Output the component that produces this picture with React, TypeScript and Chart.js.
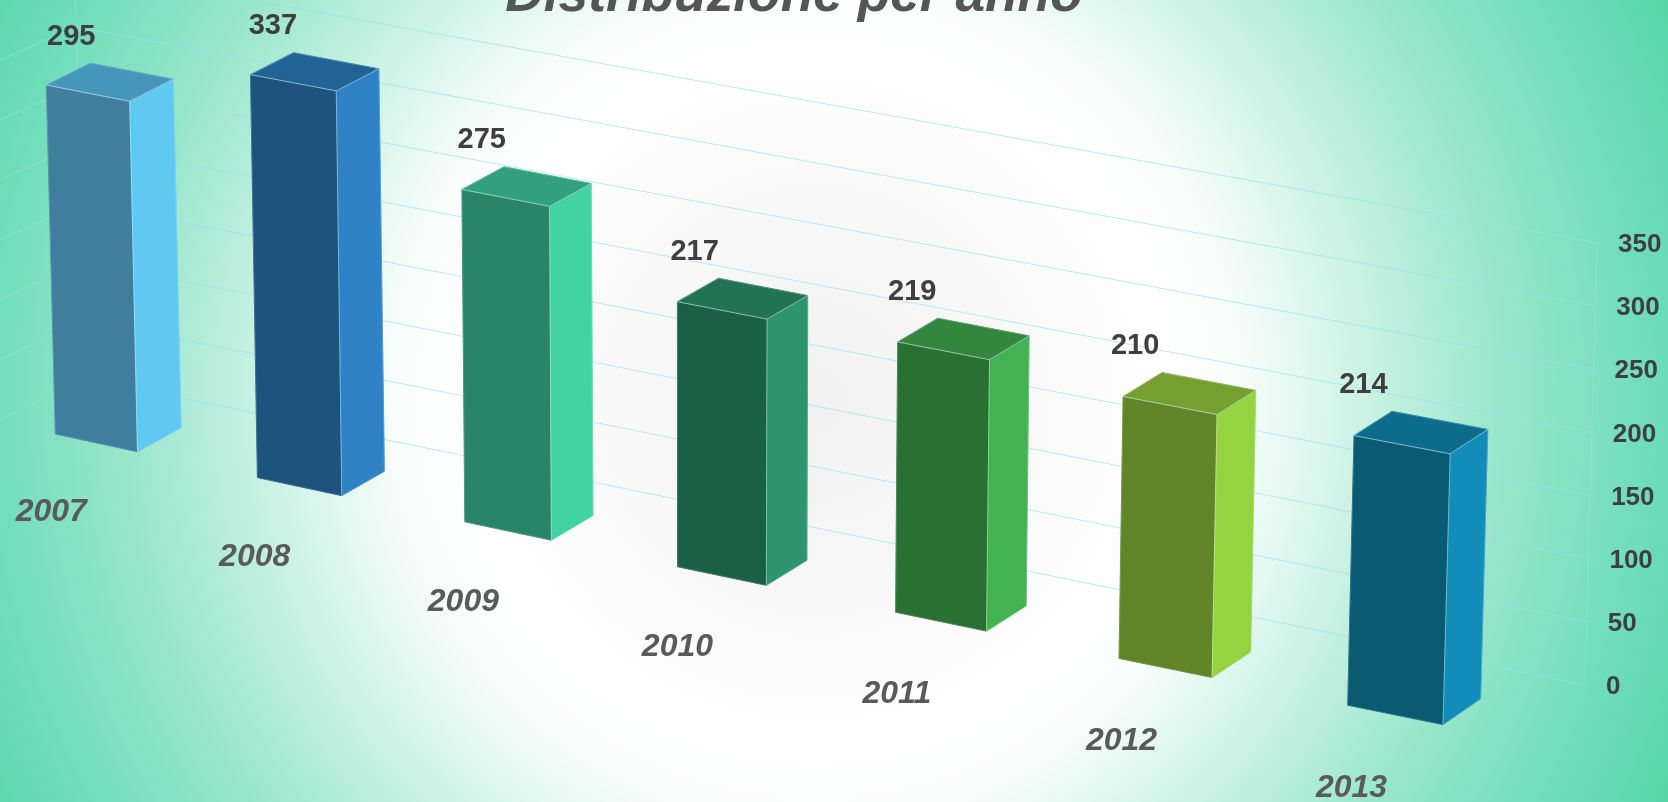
import React, { useEffect, useRef } from "react";
import { Chart, registerables, BarController } from "chart.js";

const categories = ["2007", "2008", "2009", "2010", "2011", "2012", "2013"];
const values = [295, 337, 275, 217, 219, 210, 214];
const yTicks = [0, 50, 100, 150, 200, 250, 300, 350];
const frontColors = ["#3f7f9d", "#1d537c", "#2a8468", "#1b5f47", "#2b7033", "#618428", "#0a5a72"];
const sideColors = ["#5fc9f2", "#2f82c5", "#43d3a2", "#2e946d", "#43b253", "#96d340", "#128cb8"];
const topColors = ["#4596b9", "#216396", "#31a07e", "#227355", "#33863e", "#75a02f", "#0d6c8c"];
const titleText = "Distribuzione per anno";

const FONT = '"Liberation Sans", Arial, sans-serif';
const BAR_W = 0.41;

// oblique projection: u = position along the category axis, v = value, d = depth 0..1
function project(u: number, v: number, d: number): [number, number] {
  const bx = 55.3 + 202.1 * u + 2.66 * u * (u - 1);
  const by = 434 + 43.6 * u + 0.32 * u * (u - 1);
  const x = bx + v * (-0.0305 + 0.01 * u) + d * (44 - u);
  const y = by - v * (1.183 + 0.0128 * u) + d * (-24 - 0.3 * u + 0.007 * v);
  return [x, y];
}
// back wall: t = 0 at the left corner, t = 1 at the right corner
function wall(t: number, v: number): [number, number] {
  const l: [number, number] = [84 - 0.026 * v, 378 - 1.17 * v];
  const r: [number, number] = [1585 + 0.0343 * v, 685 - 1.263 * v];
  return [l[0] + (r[0] - l[0]) * t, l[1] + (r[1] - l[1]) * t];
}

function poly(ctx: CanvasRenderingContext2D, pts: [number, number][], fill: string) {
  ctx.beginPath();
  pts.forEach((p, i) => (i ? ctx.lineTo(p[0], p[1]) : ctx.moveTo(p[0], p[1])));
  ctx.closePath();
  ctx.fillStyle = fill;
  ctx.fill();
  ctx.lineWidth = 1;
  ctx.strokeStyle = fill;
  ctx.stroke();
}
function edge(ctx: CanvasRenderingContext2D, a: [number, number], b: [number, number], alpha: number) {
  ctx.beginPath();
  ctx.moveTo(a[0], a[1]);
  ctx.lineTo(b[0], b[1]);
  ctx.strokeStyle = `rgba(215,240,245,${alpha})`;
  ctx.lineWidth = 1;
  ctx.stroke();
}

class Bar3D extends BarController {
  static id = "bar3d";
  static defaults = BarController.defaults;
  static overrides = BarController.overrides;
  draw() {
    const chart: any = (this as any).chart;
    const ctx: CanvasRenderingContext2D = chart.ctx;
    const meta: any = (this as any)._cachedMeta;
    const yScale = chart.scales.y;
    meta.data.forEach((el: any, i: number) => {
      const v = yScale.getValueForPixel(el.y);
      const a = i;
      const b = i + BAR_W;
      const fbl = project(a, 0, 0), fbr = project(b, 0, 0), ftl = project(a, v, 0), ftr = project(b, v, 0);
      const bbr = project(b, 0, 1), btl = project(a, v, 1), btr = project(b, v, 1);
      poly(ctx, [fbl, fbr, ftr, ftl], frontColors[i]);
      poly(ctx, [fbr, bbr, btr, ftr], sideColors[i]);
      poly(ctx, [ftl, ftr, btr, btl], topColors[i]);
      edge(ctx, ftl, ftr, 0.6);
      edge(ctx, ftr, btr, 0.6);
      edge(ctx, ftr, fbr, 0.45);
      edge(ctx, ftl, btl, 0.3);
      edge(ctx, btl, btr, 0.25);
      edge(ctx, ftl, fbl, 0.2);
      edge(ctx, btr, bbr, 0.25);
      edge(ctx, fbl, fbr, 0.15);
      edge(ctx, fbr, bbr, 0.15);
    });
  }
}

Chart.register(...registerables, Bar3D as any);

const scenePlugin = {
  id: "scene",
  beforeDraw(chart: any) {
    const { ctx, width, height } = chart;
    ctx.save();
    const g = ctx.createRadialGradient(815, 400, 0, 815, 400, 935);
    g.addColorStop(0, "#f1f1f1");
    g.addColorStop(0.2, "#f8f8f8");
    g.addColorStop(0.38, "#ffffff");
    g.addColorStop(0.45, "#f8fdfb");
    g.addColorStop(0.52, "#e2f8f0");
    g.addColorStop(0.74, "#97e6cb");
    g.addColorStop(0.91, "#6adcb8");
    g.addColorStop(1, "#58d6aa");
    ctx.fillStyle = g;
    ctx.fillRect(0, 0, width, height);
    ctx.restore();
  },
  beforeDatasetsDraw(chart: any) {
    const { ctx } = chart;
    const yScale = chart.scales.y;
    ctx.save();
    ctx.lineWidth = 1;
    yTicks.forEach((t) => {
      const v = yScale.getValueForPixel(yScale.getPixelForValue(t));
      const l = wall(0, v);
      const r = wall(1, v);
      ctx.strokeStyle = "rgba(150,222,242,0.65)";
      ctx.beginPath();
      ctx.moveTo(0, 420 - 1.2 * v);
      ctx.lineTo(l[0], l[1]);
      ctx.lineTo(r[0], r[1]);
      ctx.stroke();
    });
    ctx.strokeStyle = "rgba(150,222,242,0.45)";
    [0, 1].forEach((t) => {
      const a = wall(t, 0);
      const b = wall(t, 350);
      ctx.beginPath();
      ctx.moveTo(a[0], a[1]);
      ctx.lineTo(b[0], b[1]);
      ctx.stroke();
    });
    ctx.restore();
  },
  afterDatasetsDraw(chart: any) {
    const { ctx } = chart;
    const yScale = chart.scales.y;
    ctx.save();
    ctx.textBaseline = "middle";
    // value labels
    ctx.font = `bold 29px ${FONT}`;
    ctx.fillStyle = "#3f3f3f";
    ctx.textAlign = "center";
    values.forEach((val, i) => {
      const p = project(i, val, 0);
      ctx.fillText(String(val), p[0] + 25 - 2.6 * i, p[1] - 48 - 0.5 * i);
    });
    // value axis labels
    ctx.font = `bold 26px ${FONT}`;
    ctx.textAlign = "left";
    yTicks.forEach((t) => {
      const v = yScale.getValueForPixel(yScale.getPixelForValue(t));
      const r = wall(1, v);
      ctx.fillText(String(t), r[0] + 21, r[1] + 2);
    });
    // category labels
    ctx.font = `italic bold 32px ${FONT}`;
    ctx.fillStyle = "#5a5a5a";
    ctx.textAlign = "center";
    categories.forEach((c, i) => {
      const p = project(i, 0, 0);
      ctx.fillText(c, p[0] - 4 + 1.3 * i, p[1] + 78.5 + 0.8 * i);
    });
    // title
    ctx.font = `italic bold 53.3px ${FONT}`;
    ctx.fillStyle = "#555555";
    ctx.textBaseline = "alphabetic";
    ctx.fillText(titleText, 794, 11);
    ctx.restore();
  },
};

export default function App() {
  const ref = useRef<HTMLCanvasElement>(null);
  useEffect(() => {
    document.body.style.margin = "0";
    document.documentElement.style.overflow = "hidden";
    const chart = new Chart(ref.current as HTMLCanvasElement, {
      type: "bar3d" as any,
      data: {
        labels: categories,
        datasets: [{ data: values, backgroundColor: frontColors, clip: false as any }],
      },
      options: {
        animation: false,
        responsive: false,
        layout: { padding: 0 },
        plugins: { legend: { display: false }, tooltip: { enabled: false }, title: { display: false } },
        scales: {
          x: { type: "category", offset: true, display: false },
          y: { type: "linear", min: 0, max: 350, display: false, ticks: { stepSize: 50 } },
        },
      },
      plugins: [scenePlugin],
    } as any);
    return () => chart.destroy();
  }, []);
  return (
    <div style={{ width: 1668, height: 802 }}>
      <canvas ref={ref} width={1668} height={802} style={{ display: "block" }} />
    </div>
  );
}
